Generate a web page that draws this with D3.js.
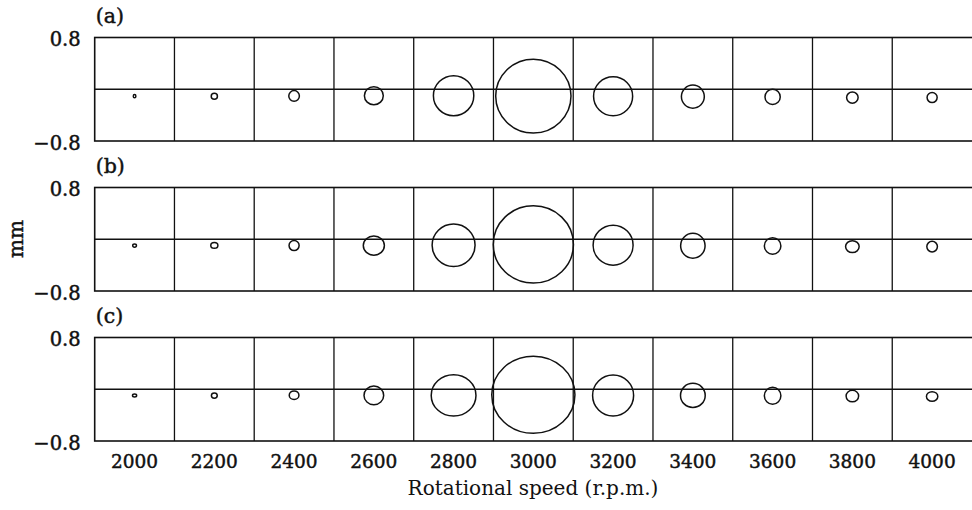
<!DOCTYPE html>
<meta charset="utf-8">
<script src="https://d3js.org/d3.v7.min.js"></script>
<body style="margin:0;background:#fff">
<div id="orbits"></div>
</body>
<style>
text { font-family: "DejaVu Serif", serif; fill: #111; }
.semi { stroke: #111; stroke-width: 0.45; }
</style>
<script>

// rotational speeds, one cell each
var speeds = [2000, 2200, 2400, 2600, 2800, 3000, 3200, 3400, 3600, 3800, 4000]
var panelLabels = ["(a)", "(b)", "(c)"]
var yTicks = [-0.8, 0.8]

// orbit semi-axes (mm) and centre offset (mm)
var rxA = [0.020, 0.048, 0.082, 0.146, 0.312, 0.582, 0.302, 0.177, 0.118, 0.089, 0.078]
var ryA = [0.025, 0.046, 0.082, 0.140, 0.309, 0.571, 0.302, 0.178, 0.117, 0.086, 0.077]
var cyA = [-0.108, -0.108, -0.103, -0.100, -0.100, -0.106, -0.108, -0.114, -0.118, -0.129, -0.129]

var rxB = [0.029, 0.055, 0.078, 0.163, 0.332, 0.620, 0.309, 0.189, 0.128, 0.105, 0.082]
var ryB = [0.025, 0.043, 0.077, 0.148, 0.328, 0.597, 0.309, 0.192, 0.128, 0.092, 0.082]
var cyB = [-0.098, -0.095, -0.098, -0.098, -0.092, -0.080, -0.091, -0.100, -0.103, -0.114, -0.114]

var rxC = [0.032, 0.045, 0.075, 0.152, 0.346, 0.643, 0.317, 0.191, 0.128, 0.097, 0.088]
var ryC = [0.023, 0.040, 0.066, 0.146, 0.320, 0.597, 0.317, 0.186, 0.131, 0.089, 0.074]
var cyC = [-0.095, -0.098, -0.092, -0.095, -0.095, -0.085, -0.098, -0.095, -0.100, -0.106, -0.111]

var panels = [
  {label: panelLabels[0], rx: rxA, ry: ryA, cy: cyA},
  {label: panelLabels[1], rx: rxB, ry: ryB, cy: cyB},
  {label: panelLabels[2], rx: rxC, ry: ryC, cy: cyC}
]

var width = 972, height = 510
var left = 94.7, right = 972
var panelTop = [37.5, 187.5, 337.5], panelH = 103.5

var svg = d3.select("#orbits")
  .append("svg")
    .attr("width", width)
    .attr("height", height)

var x = d3.scaleBand()
  .domain(speeds)
  .range([left, right])
  .padding(0)

panels.forEach(function(p, i){
  var top = panelTop[i]
  var y = d3.scaleLinear()
    .domain([-0.8, 0.8])
    .range([top + panelH, top])
  // same mm-to-pixel ratio across the cell
  var ox = d3.scaleLinear()
    .domain([-0.8, 0.8])
    .range([-panelH / 2, panelH / 2])

  var g = svg.append("g")

  // cell dividers
  g.selectAll("divs")
    .data(speeds.slice(1))
    .enter()
    .append("line")
      .attr("x1", function(d){ return x(d) })
      .attr("x2", function(d){ return x(d) })
      .attr("y1", y(0.8))
      .attr("y2", y(-0.8))
      .attr("stroke", "#111")
      .attr("stroke-width", 1.3)

  // frame
  g.append("rect")
    .attr("x", left)
    .attr("y", y(0.8))
    .attr("width", right - left + 2)
    .attr("height", y(-0.8) - y(0.8))
    .attr("fill", "none")
    .attr("stroke", "#111")
    .attr("stroke-width", 1.6)

  // centre line
  g.append("line")
    .attr("x1", left)
    .attr("x2", right)
    .attr("y1", y(0))
    .attr("y2", y(0))
    .attr("stroke", "#111")
    .attr("stroke-width", 1.6)

  // orbits
  g.selectAll("orbits")
    .data(speeds)
    .enter()
    .append("ellipse")
      .attr("cx", function(d){ return x(d) + x.bandwidth() / 2 })
      .attr("cy", function(d, k){ return y(p.cy[k]) })
      .attr("rx", function(d, k){ return ox(p.rx[k]) - ox(0) })
      .attr("ry", function(d, k){ return y(0) - y(p.ry[k]) })
      .attr("fill", "none")
      .attr("stroke", "#111")
      .attr("stroke-width", 1.5)

  // y ticks
  var ay = g.append("g")
    .attr("transform", "translate(" + (left - 14) + ",0)")
    .call(d3.axisLeft(y).tickValues(yTicks).tickSize(0).tickFormat(d3.format(".1f")))
  ay.select(".domain").remove()
  ay.selectAll("text")
    .attr("class", "semi")
    .attr("x", 0)
    .attr("dy", "0.42em")
    .attr("font-family", "DejaVu Serif")
    .attr("font-size", 19.5)
    .attr("fill", "#111")

  // panel label
  g.append("text")
    .attr("class", "semi")
    .attr("x", left + 1)
    .attr("y", top - 15)
    .attr("font-size", 20.5)
    .text(p.label)
})

// x axis under the last panel
var ax = svg.append("g")
  .attr("transform", "translate(0," + (panelTop[2] + panelH) + ")")
  .call(d3.axisBottom(x).tickSize(0))
ax.select(".domain").remove()
ax.selectAll("text")
  .attr("class", "semi")
  .attr("y", 26.5)
  .attr("dy", 0)
  .attr("font-family", "DejaVu Serif")
  .attr("font-size", 18.5)
  .attr("fill", "#111")

// axis titles
svg.append("text")
  .attr("text-anchor", "middle")
  .attr("x", 533)
  .attr("y", 495)
  .attr("font-size", 20)
  .text("Rotational speed (r.p.m.)")

svg.append("text")
  .attr("class", "semi")
  .attr("text-anchor", "middle")
  .attr("transform", "translate(23,239) rotate(-90)")
  .attr("font-size", 20)
  .text("mm")

</script>
